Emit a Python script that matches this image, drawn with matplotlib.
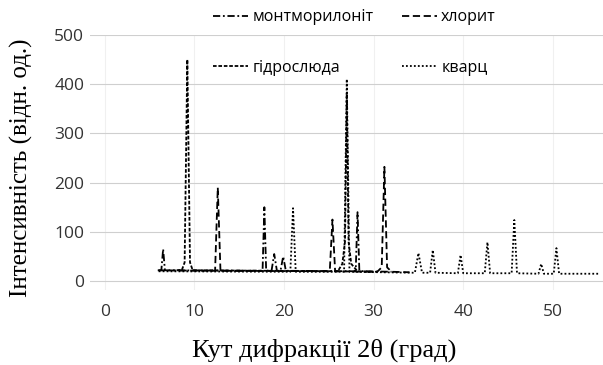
import matplotlib
matplotlib.use("Agg")
import matplotlib.pyplot as plt

# --- дані (кут 2θ, інтенсивність) ---
mont_x = [6.0, 6.3, 6.5, 6.7, 17.4, 17.6, 17.8, 18.0, 18.3, 18.6, 18.9, 19.2, 19.6, 19.9, 20.2, 27.8, 28.0, 28.2, 28.4, 28.8, 32.0]
mont_y = [22, 22, 65, 22, 21, 22, 150, 22, 21, 21, 55, 21, 21, 50, 21, 20, 22, 140, 22, 20, 19]

chlor_x = [5.9, 12.3, 12.6, 12.9, 25.1, 25.4, 25.7, 30.4, 30.9, 31.2, 31.5, 32.0, 34.0]
chlor_y = [22, 21, 190, 21, 20, 125, 20, 19, 28, 232, 28, 19, 18]

hydro_x = [8.0, 8.6, 8.9, 9.2, 9.5, 9.8, 26.0, 26.5, 26.8, 27.0, 27.2, 27.5, 28.2, 30.0]
hydro_y = [22, 23, 38, 450, 38, 22, 20, 35, 80, 380, 80, 35, 20, 19]

quartz_x = [6.0, 20.7, 21.0, 21.3, 26.7, 27.0, 27.3, 34.6, 35.0, 35.4, 36.3, 36.6, 36.9,
            39.4, 39.7, 40.0, 42.4, 42.7, 43.0, 45.4, 45.7, 46.0, 48.4, 48.7, 49.0,
            50.1, 50.4, 50.7, 55.2]
quartz_y = [20, 19, 148, 19, 19, 410, 19, 17, 57, 17, 17, 63, 17,
            16, 53, 16, 16, 79, 16, 16, 124, 16, 15, 35, 15,
            15, 67, 15, 15]

x_ticks = [0, 10, 20, 30, 40, 50]
y_ticks = [0, 100, 200, 300, 400, 500]

plt.rcParams['font.family'] = ['Open Sans', 'DejaVu Sans']

fig = plt.figure(figsize=(6.03, 3.65), dpi=100)
ax = fig.add_axes([0.149, 0.2055, 0.851, 0.699])

ax.plot(mont_x, mont_y, color='black', lw=1.3, ls=(0, (4, 1.5, 1, 1.5)), label='монтморилоніт')
ax.plot(hydro_x, hydro_y, color='black', lw=1.3, ls=(0, (2, 1)), label='гідрослюда')
ax.plot(chlor_x, chlor_y, color='black', lw=1.3, ls=(0, (4, 2)), label='хлорит')
ax.plot(quartz_x, quartz_y, color='black', lw=1.3, ls=(0, (1, 1.2)), label='кварц')

ax.set_xlim(-1.68, 55.6)
ax.set_ylim(-18, 500)
ax.set_xticks(x_ticks)
ax.set_yticks(y_ticks)
ax.tick_params(axis='both', length=0, labelsize=12.5, colors='#333333')
ax.tick_params(axis='x', pad=10)
ax.tick_params(axis='y', pad=4)
ax.grid(True, axis='y', color='#cfcfcf', lw=0.8)
ax.grid(True, axis='x', color='#f0f0f0', lw=0.8)
ax.set_axisbelow(True)
for s in ax.spines.values():
    s.set_visible(False)

ax.set_xlabel('Кут дифракції 2θ (град)', family='Liberation Serif', fontsize=19)
ax.xaxis.set_label_coords(0.456, -0.19)
ax.set_ylabel('Інтенсивність (відн. од.)', family='Liberation Serif', fontsize=18)
ax.yaxis.set_label_coords(-0.111, 0.48)

leg = ax.legend(loc='upper left', bbox_to_anchor=(0.212, 1.157), ncol=2, frameon=False,
                fontsize=11.5, handlelength=2.2, handletextpad=0.25, labelspacing=2.16,
                columnspacing=1.8)
leg.set_clip_on(False)

fig.savefig('out.png', dpi=100)
